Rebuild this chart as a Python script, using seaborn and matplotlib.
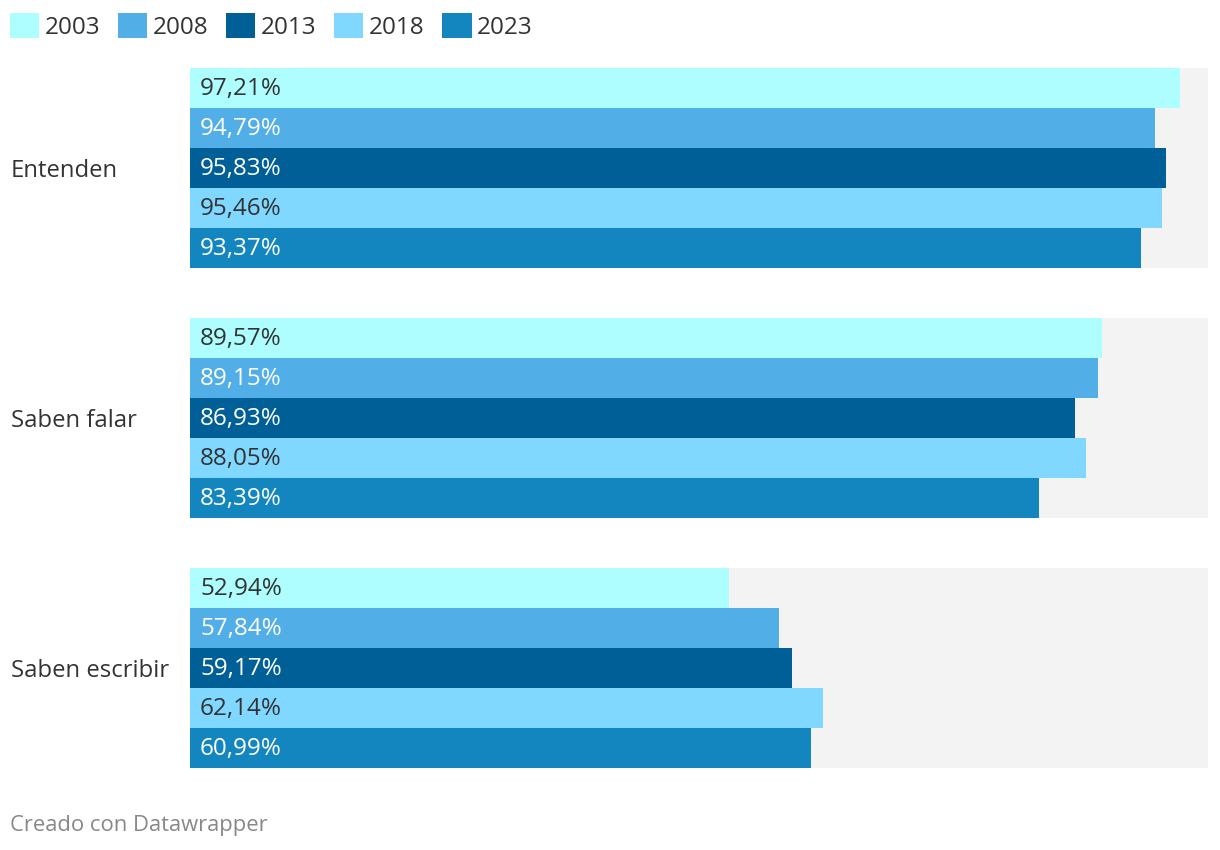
import matplotlib
matplotlib.use("Agg")
import matplotlib.pyplot as plt
import seaborn as sns
import pandas as pd
from matplotlib.patches import Patch

categories = ["Entenden", "Saben falar", "Saben escribir"]
years = ["2003", "2008", "2013", "2018", "2023"]
v2003 = [97.21, 89.57, 52.94]
v2008 = [94.79, 89.15, 57.84]
v2013 = [95.83, 86.93, 59.17]
v2018 = [95.46, 88.05, 62.14]
v2023 = [93.37, 83.39, 60.99]
full = [100, 100, 100]

colors = {"2003": "#affeff", "2008": "#52aee6", "2013": "#005f96",
          "2018": "#80d7ff", "2023": "#1386c0"}
text_colors = {"2003": "#333333", "2008": "#ffffff", "2013": "#ffffff",
               "2018": "#333333", "2023": "#ffffff"}

series = {"2003": v2003, "2008": v2008, "2013": v2013, "2018": v2018, "2023": v2023}
rows = []
for y in years:
    for c, v in zip(categories, series[y]):
        rows.append({"cat": c, "year": y, "value": v})
df = pd.DataFrame(rows)

sns.set_theme(style="white")
plt.rcParams["font.family"] = ["Open Sans", "DejaVu Sans"]

FS = 17.5

fig = plt.figure(figsize=(12.2, 8.5), dpi=100)
ax = fig.add_axes([190 / 1220, 1 - 768 / 850, 1018 / 1220, 700 / 850])

sns.barplot(x=full, y=categories, color="#f3f3f3", width=0.8, ax=ax,
            orient="h", saturation=1, linewidth=0)
sns.barplot(data=df, x="value", y="cat", hue="year", hue_order=years,
            palette=colors, width=0.8, orient="h", ax=ax, saturation=1,
            legend=False, dodge=True, linewidth=0)

containers = ax.containers[1:]
for y, cont in zip(years, containers):
    for bar, v in zip(cont, series[y]):
        cy = bar.get_y() + bar.get_height() / 2
        ax.annotate(f"{v:.2f}".replace(".", ",") + "%", xy=(0, cy),
                    xytext=(7.2, -0.7), textcoords="offset points",
                    ha="left", va="center", fontsize=FS,
                    color=text_colors[y])

ax.set_xlim(0, 100)
ax.set_ylim(2.4, -0.4)
ax.set_xlabel("")
ax.set_ylabel("")
ax.set_xticks([])
ax.tick_params(axis="y", length=0, pad=129)
for lab in ax.get_yticklabels():
    lab.set_ha("left")
    lab.set_fontsize(17.2)
    lab.set_color("#333333")
for s in ax.spines.values():
    s.set_visible(False)

handles = [Patch(facecolor=colors[y], edgecolor="none", label=y) for y in years]
fig.legend(handles=handles, loc="upper left", bbox_to_anchor=(5 / 1220, 1 - 8 / 850),
           ncol=5, frameon=False, fontsize=FS, handlelength=1.2, handleheight=1.2,
           handletextpad=0.22, columnspacing=0.74, labelcolor="#333333",
           borderaxespad=0, borderpad=0.2)

fig.text(10 / 1220, 1 - 825 / 850, "Creado con Datawrapper", fontsize=15.8,
         color="#888888", ha="left", va="center")

fig.savefig("out.png", dpi=100, facecolor="white")
